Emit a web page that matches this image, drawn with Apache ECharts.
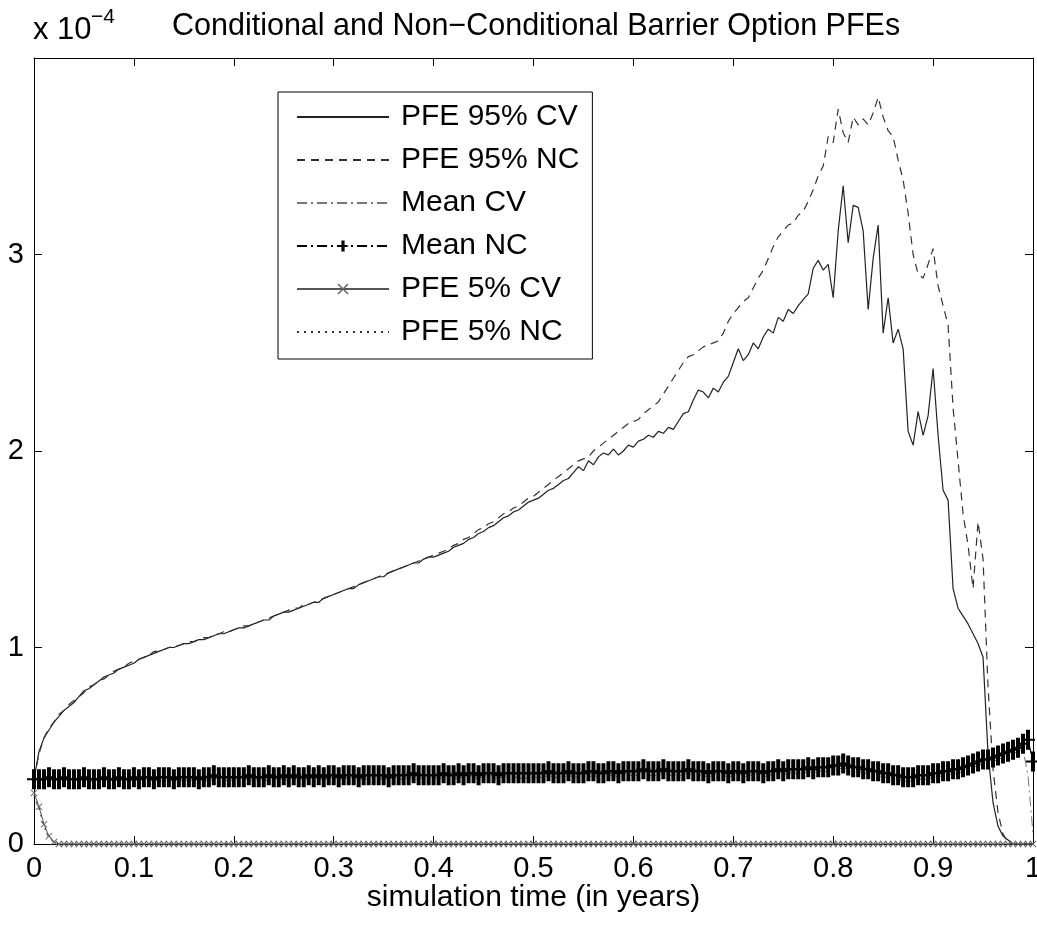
<!DOCTYPE html>
<html>
<head>
<meta charset="utf-8">
<title>Conditional and Non-Conditional Barrier Option PFEs</title>
<script src="https://cdn.jsdelivr.net/npm/echarts@6/dist/echarts.min.js"></script>
<style>
  html, body { margin: 0; padding: 0; background: #fff; }
  #chart { width: 1037px; height: 926px; }
</style>
</head>
<body>
<div id="chart"></div>
<script>
// sampling grid of the simulation (years), values are in units of 1e-4
const STEP = 0.005;

const seriesNames = ['PFE 95% CV', 'PFE 95% NC', 'Mean CV', 'Mean NC', 'PFE 5% CV', 'PFE 5% NC'];

const pfe95Cv = [
  0.33, 0.47, 0.54, 0.58, 0.62, 0.65, 0.68, 0.70, 0.72, 0.75, 0.78, 0.79, 0.81, 0.83, 0.85, 0.86, 0.87, 0.89, 0.90, 0.91,
  0.92, 0.94, 0.95, 0.96, 0.97, 0.98, 0.99, 1.00, 1.00, 1.01, 1.02, 1.02, 1.03, 1.04, 1.04, 1.05, 1.06, 1.07, 1.07, 1.08,
  1.09, 1.10, 1.10, 1.11, 1.12, 1.13, 1.14, 1.14, 1.16, 1.17, 1.18, 1.18, 1.19, 1.20, 1.21, 1.22, 1.23, 1.23, 1.25, 1.26,
  1.27, 1.28, 1.29, 1.30, 1.30, 1.32, 1.33, 1.34, 1.35, 1.36, 1.36, 1.38, 1.39, 1.40, 1.41, 1.42, 1.43, 1.43, 1.45, 1.46,
  1.46, 1.47, 1.48, 1.49, 1.51, 1.52, 1.53, 1.55, 1.56, 1.58, 1.59, 1.61, 1.62, 1.64, 1.66, 1.67, 1.69, 1.70, 1.72, 1.74,
  1.75, 1.76, 1.78, 1.80, 1.81, 1.83, 1.85, 1.86, 1.89, 1.92, 1.90, 1.95, 1.93, 1.97, 1.99, 1.98, 2.01, 1.98, 2.00, 2.03,
  2.02, 2.05, 2.06, 2.08, 2.07, 2.10, 2.09, 2.12, 2.11, 2.15, 2.19, 2.20, 2.26, 2.31, 2.30, 2.27, 2.32, 2.30, 2.35, 2.38,
  2.45, 2.52, 2.46, 2.49, 2.55, 2.52, 2.58, 2.62, 2.60, 2.68, 2.66, 2.72, 2.70, 2.74, 2.77, 2.80, 2.93, 2.97, 2.92, 2.95,
  2.78, 3.12, 3.35, 3.06, 3.25, 3.24, 3.12, 2.72, 2.98, 3.15, 2.60, 2.78, 2.55, 2.62, 2.52, 2.10, 2.03, 2.20, 2.08, 2.18,
  2.42, 2.08, 1.80, 1.75, 1.30, 1.20, 1.16, 1.12, 1.07, 1.02, 0.95, 0.46, 0.21, 0.09, 0.04, 0.02, 0, 0, 0, 0,
  0
];

const pfe95Nc = [
  0.33, 0.46, 0.54, 0.59, 0.62, 0.66, 0.68, 0.71, 0.73, 0.75, 0.77, 0.80, 0.81, 0.83, 0.84, 0.86, 0.88, 0.89, 0.90, 0.92,
  0.93, 0.94, 0.95, 0.96, 0.98, 0.98, 0.99, 1.00, 1.01, 1.01, 1.02, 1.03, 1.03, 1.04, 1.05, 1.05, 1.06, 1.07, 1.08, 1.08,
  1.09, 1.10, 1.11, 1.11, 1.12, 1.13, 1.14, 1.15, 1.16, 1.17, 1.18, 1.19, 1.20, 1.20, 1.22, 1.22, 1.23, 1.24, 1.25, 1.26,
  1.27, 1.28, 1.29, 1.30, 1.31, 1.32, 1.33, 1.34, 1.35, 1.36, 1.37, 1.38, 1.39, 1.40, 1.41, 1.42, 1.43, 1.44, 1.45, 1.46,
  1.47, 1.48, 1.49, 1.50, 1.52, 1.53, 1.55, 1.56, 1.58, 1.60, 1.61, 1.63, 1.64, 1.66, 1.68, 1.69, 1.71, 1.72, 1.74, 1.76,
  1.77, 1.79, 1.81, 1.83, 1.85, 1.87, 1.89, 1.91, 1.93, 1.95, 1.96, 1.97, 2.00, 2.02, 2.04, 2.06, 2.08, 2.10, 2.12, 2.14,
  2.15, 2.16, 2.19, 2.21, 2.23, 2.25, 2.29, 2.33, 2.37, 2.41, 2.45, 2.48, 2.49, 2.51, 2.53, 2.54, 2.55, 2.56, 2.60, 2.66,
  2.70, 2.73, 2.76, 2.78, 2.83, 2.88, 2.92, 2.98, 3.04, 3.09, 3.12, 3.15, 3.16, 3.20, 3.22, 3.27, 3.33, 3.40, 3.45, 3.60,
  3.57, 3.74, 3.62, 3.57, 3.70, 3.66, 3.69, 3.66, 3.72, 3.80, 3.70, 3.63, 3.60, 3.48, 3.38, 3.21, 3.00, 2.90, 2.88, 2.95,
  3.03, 2.84, 2.74, 2.64, 2.22, 1.95, 1.68, 1.52, 1.30, 1.64, 1.45, 0.80, 0.38, 0.16, 0.05, 0.01, 0, 0, 0, 0,
  0
];

const meanCv = [
  0.33, 0.33, 0.32, 0.33, 0.32, 0.33, 0.33, 0.32, 0.33, 0.32, 0.33, 0.32, 0.32, 0.33, 0.32, 0.32, 0.33, 0.32, 0.32, 0.33,
  0.32, 0.33, 0.32, 0.32, 0.33, 0.32, 0.32, 0.33, 0.32, 0.32, 0.33, 0.32, 0.33, 0.32, 0.32, 0.33, 0.32, 0.33, 0.33, 0.32,
  0.33, 0.32, 0.33, 0.33, 0.32, 0.33, 0.33, 0.32, 0.33, 0.33, 0.33, 0.32, 0.33, 0.33, 0.33, 0.33, 0.32, 0.33, 0.33, 0.33,
  0.33, 0.33, 0.33, 0.34, 0.33, 0.33, 0.33, 0.33, 0.34, 0.33, 0.33, 0.33, 0.34, 0.33, 0.33, 0.34, 0.33, 0.33, 0.34, 0.33,
  0.34, 0.33, 0.34, 0.34, 0.33, 0.34, 0.34, 0.34, 0.33, 0.34, 0.34, 0.34, 0.33, 0.34, 0.34, 0.34, 0.34, 0.34, 0.33, 0.34,
  0.34, 0.34, 0.34, 0.35, 0.34, 0.34, 0.34, 0.35, 0.34, 0.34, 0.35, 0.34, 0.35, 0.34, 0.34, 0.35, 0.35, 0.34, 0.35, 0.35,
  0.35, 0.35, 0.36, 0.35, 0.35, 0.35, 0.36, 0.35, 0.35, 0.35, 0.35, 0.36, 0.35, 0.35, 0.35, 0.34, 0.35, 0.35, 0.35, 0.34,
  0.35, 0.35, 0.34, 0.35, 0.35, 0.35, 0.34, 0.35, 0.35, 0.36, 0.35, 0.36, 0.36, 0.36, 0.36, 0.37, 0.36, 0.37, 0.37, 0.37,
  0.38, 0.38, 0.39, 0.38, 0.37, 0.37, 0.36, 0.36, 0.35, 0.35, 0.34, 0.34, 0.33, 0.33, 0.32, 0.32, 0.32, 0.33, 0.33, 0.33,
  0.34, 0.34, 0.35, 0.35, 0.36, 0.36, 0.37, 0.38, 0.39, 0.40, 0.41, 0.41, 0.42, 0.43, 0.44, 0.45, 0.46, 0.47, 0.48, 0.35,
  0.05
];

const meanNc = [
  0.33, 0.33, 0.33, 0.34, 0.33, 0.33, 0.34, 0.33, 0.33, 0.33, 0.34, 0.33, 0.33, 0.33, 0.34, 0.33, 0.33, 0.34, 0.33, 0.33,
  0.34, 0.33, 0.34, 0.34, 0.33, 0.34, 0.34, 0.34, 0.33, 0.34, 0.34, 0.34, 0.34, 0.33, 0.34, 0.34, 0.35, 0.34, 0.34, 0.34,
  0.34, 0.34, 0.34, 0.35, 0.34, 0.34, 0.34, 0.35, 0.34, 0.34, 0.35, 0.34, 0.35, 0.34, 0.34, 0.35, 0.34, 0.35, 0.34, 0.35,
  0.35, 0.34, 0.35, 0.35, 0.35, 0.34, 0.35, 0.35, 0.35, 0.35, 0.35, 0.34, 0.35, 0.35, 0.35, 0.35, 0.36, 0.35, 0.35, 0.35,
  0.35, 0.35, 0.36, 0.35, 0.35, 0.36, 0.35, 0.36, 0.36, 0.35, 0.36, 0.36, 0.36, 0.35, 0.36, 0.36, 0.36, 0.36, 0.36, 0.36,
  0.36, 0.36, 0.36, 0.37, 0.36, 0.36, 0.36, 0.37, 0.36, 0.36, 0.36, 0.37, 0.37, 0.36, 0.36, 0.37, 0.37, 0.36, 0.37, 0.37,
  0.37, 0.37, 0.38, 0.37, 0.37, 0.37, 0.38, 0.37, 0.37, 0.37, 0.37, 0.38, 0.37, 0.37, 0.37, 0.36, 0.37, 0.37, 0.37, 0.36,
  0.37, 0.37, 0.36, 0.37, 0.37, 0.37, 0.36, 0.37, 0.37, 0.38, 0.37, 0.38, 0.38, 0.38, 0.38, 0.39, 0.38, 0.39, 0.39, 0.39,
  0.40, 0.40, 0.41, 0.40, 0.39, 0.39, 0.38, 0.38, 0.37, 0.37, 0.36, 0.36, 0.35, 0.35, 0.34, 0.34, 0.34, 0.35, 0.35, 0.35,
  0.36, 0.36, 0.37, 0.37, 0.38, 0.38, 0.39, 0.40, 0.41, 0.42, 0.43, 0.43, 0.44, 0.45, 0.46, 0.47, 0.48, 0.49, 0.51, 0.53,
  0.42
];

const pfe5Cv = [
  0.26, 0.19, 0.10, 0.04, 0.01, 0, 0, 0, 0, 0, 0, 0, 0, 0, 0, 0, 0, 0, 0, 0,
  0, 0, 0, 0, 0, 0, 0, 0, 0, 0, 0, 0, 0, 0, 0, 0, 0, 0, 0, 0,
  0, 0, 0, 0, 0, 0, 0, 0, 0, 0, 0, 0, 0, 0, 0, 0, 0, 0, 0, 0,
  0, 0, 0, 0, 0, 0, 0, 0, 0, 0, 0, 0, 0, 0, 0, 0, 0, 0, 0, 0,
  0, 0, 0, 0, 0, 0, 0, 0, 0, 0, 0, 0, 0, 0, 0, 0, 0, 0, 0, 0,
  0, 0, 0, 0, 0, 0, 0, 0, 0, 0, 0, 0, 0, 0, 0, 0, 0, 0, 0, 0,
  0, 0, 0, 0, 0, 0, 0, 0, 0, 0, 0, 0, 0, 0, 0, 0, 0, 0, 0, 0,
  0, 0, 0, 0, 0, 0, 0, 0, 0, 0, 0, 0, 0, 0, 0, 0, 0, 0, 0, 0,
  0, 0, 0, 0, 0, 0, 0, 0, 0, 0, 0, 0, 0, 0, 0, 0, 0, 0, 0, 0,
  0, 0, 0, 0, 0, 0, 0, 0, 0, 0, 0, 0, 0, 0, 0, 0, 0, 0, 0, 0,
  0
];

const pfe5Nc = [
  0.25, 0.18, 0.09, 0.03, 0.01, 0, 0, 0, 0, 0, 0, 0, 0, 0, 0, 0, 0, 0, 0, 0,
  0, 0, 0, 0, 0, 0, 0, 0, 0, 0, 0, 0, 0, 0, 0, 0, 0, 0, 0, 0,
  0, 0, 0, 0, 0, 0, 0, 0, 0, 0, 0, 0, 0, 0, 0, 0, 0, 0, 0, 0,
  0, 0, 0, 0, 0, 0, 0, 0, 0, 0, 0, 0, 0, 0, 0, 0, 0, 0, 0, 0,
  0, 0, 0, 0, 0, 0, 0, 0, 0, 0, 0, 0, 0, 0, 0, 0, 0, 0, 0, 0,
  0, 0, 0, 0, 0, 0, 0, 0, 0, 0, 0, 0, 0, 0, 0, 0, 0, 0, 0, 0,
  0, 0, 0, 0, 0, 0, 0, 0, 0, 0, 0, 0, 0, 0, 0, 0, 0, 0, 0, 0,
  0, 0, 0, 0, 0, 0, 0, 0, 0, 0, 0, 0, 0, 0, 0, 0, 0, 0, 0, 0,
  0, 0, 0, 0, 0, 0, 0, 0, 0, 0, 0, 0, 0, 0, 0, 0, 0, 0, 0, 0,
  0, 0, 0, 0, 0, 0, 0, 0, 0, 0, 0, 0, 0, 0, 0, 0, 0, 0, 0, 0,
  0
];

const FONT = '"Liberation Sans", Arial, Helvetica, sans-serif';
const PLUS = 'path://M5,0h4v20h-4zM0,9h14v2h-14z';
const CROSS = 'path://M0,1L1,0L5,4L9,0L10,1L6,5L10,9L9,10L5,6L1,10L0,9L4,5Z';

// pair each value with its time on the simulation grid
function withTime(values) {
  return values.map(function (v, i) { return [+(i * STEP).toFixed(3), v]; });
}

// MATLAB style box: every side has an axis line with inward ticks
function boxAxis(pos, isX) {
  return {
    type: 'value',
    position: pos,
    min: 0,
    max: isX ? 1 : 4,
    interval: isX ? 0.1 : 1,
    axisLine: { show: true, onZero: false, lineStyle: { color: '#000', width: 1 } },
    axisTick: { show: true, inside: true, length: 8, lineStyle: { color: '#000' } },
    axisLabel: { show: false },
    splitLine: { show: false }
  };
}

let chart = echarts.init(document.getElementById('chart'), null, { renderer: 'canvas' });

let xBottom = boxAxis('bottom', true);
xBottom.axisLabel = { show: true, fontSize: 29, color: '#000', fontFamily: FONT, margin: 10 };
xBottom.name = 'simulation time (in years)';
xBottom.nameLocation = 'middle';
xBottom.nameGap = 39;
xBottom.nameMoveOverlap = false;
xBottom.nameTextStyle = { fontSize: 30, color: '#000', fontFamily: FONT, verticalAlign: 'top' };

let yLeft = boxAxis('left', false);
yLeft.axisLabel = { show: true, fontSize: 29, color: '#000', fontFamily: FONT, margin: 10, showMaxLabel: false };

let legendData = seriesNames.map(function (name) {
  // only Mean NC and PFE 5% CV carry markers in the key
  let marked = name === 'Mean NC' || name === 'PFE 5% CV';
  return marked ? { name: name } : { name: name, itemStyle: { opacity: 0 } };
});

let option = {
  animation: false,
  backgroundColor: '#fff',
  title: {
    text: 'Conditional and Non\u2212Conditional Barrier Option PFEs',
    left: 167,
    top: 6,
    textStyle: { fontSize: 30.5, fontWeight: 'normal', color: '#000', fontFamily: FONT }
  },
  graphic: [
    { type: 'text', left: 33, top: 15, style: { text: 'x 10', font: '31px ' + FONT, fill: '#000' } },
    { type: 'text', left: 91, top: 7, style: { text: '\u22124', font: '21px ' + FONT, fill: '#000' } }
  ],
  grid: { left: 34, right: 4, top: 58, bottom: 82, outerBoundsMode: 'none' },
  legend: {
    data: legendData,
    orient: 'vertical',
    left: 278,
    top: 92,
    padding: [10, 13, 12, 18],
    itemWidth: 92,
    itemHeight: 14,
    itemGap: 13,
    borderColor: '#000',
    borderWidth: 1,
    backgroundColor: '#fff',
    textStyle: { fontSize: 30, lineHeight: 30, color: '#000', fontFamily: FONT, padding: [0, 0, 0, 7] },
    selectedMode: false
  },
  xAxis: [xBottom, boxAxis('top', true)],
  yAxis: [yLeft, boxAxis('right', false)],
  series: [
    {
      name: 'PFE 95% CV', type: 'line', data: withTime(pfe95Cv), symbol: 'none', z: 3,
      lineStyle: { color: '#222', width: 1.2, type: 'solid' }, itemStyle: { color: '#222' }
    },
    {
      name: 'PFE 95% NC', type: 'line', data: withTime(pfe95Nc), symbol: 'none', z: 3,
      lineStyle: { color: '#333', width: 1.2, type: [8, 6] }, itemStyle: { color: '#333' }
    },
    {
      name: 'Mean CV', type: 'line', data: withTime(meanCv), symbol: 'none', z: 2,
      lineStyle: { color: '#777', width: 1, type: [10, 4, 2, 4] }, itemStyle: { color: '#777' }
    },
    {
      name: 'Mean NC', type: 'line', data: withTime(meanNc), symbol: PLUS, symbolSize: [14, 20], z: 4,
      lineStyle: { color: '#000', width: 1.2, type: [10, 4, 2, 4] }, itemStyle: { color: '#000', borderWidth: 0 }
    },
    {
      name: 'PFE 5% CV', type: 'line', data: withTime(pfe5Cv), symbol: CROSS, symbolSize: 7, z: 3,
      lineStyle: { color: '#555', width: 1, type: 'solid' }, itemStyle: { color: '#666', borderWidth: 0 }
    },
    {
      name: 'PFE 5% NC', type: 'line', data: withTime(pfe5Nc), symbol: 'none', z: 3,
      lineStyle: { color: '#333', width: 1.2, type: [2, 5] }, itemStyle: { color: '#333' }
    }
  ]
};

chart.setOption(option);
</script>
</body>
</html>
